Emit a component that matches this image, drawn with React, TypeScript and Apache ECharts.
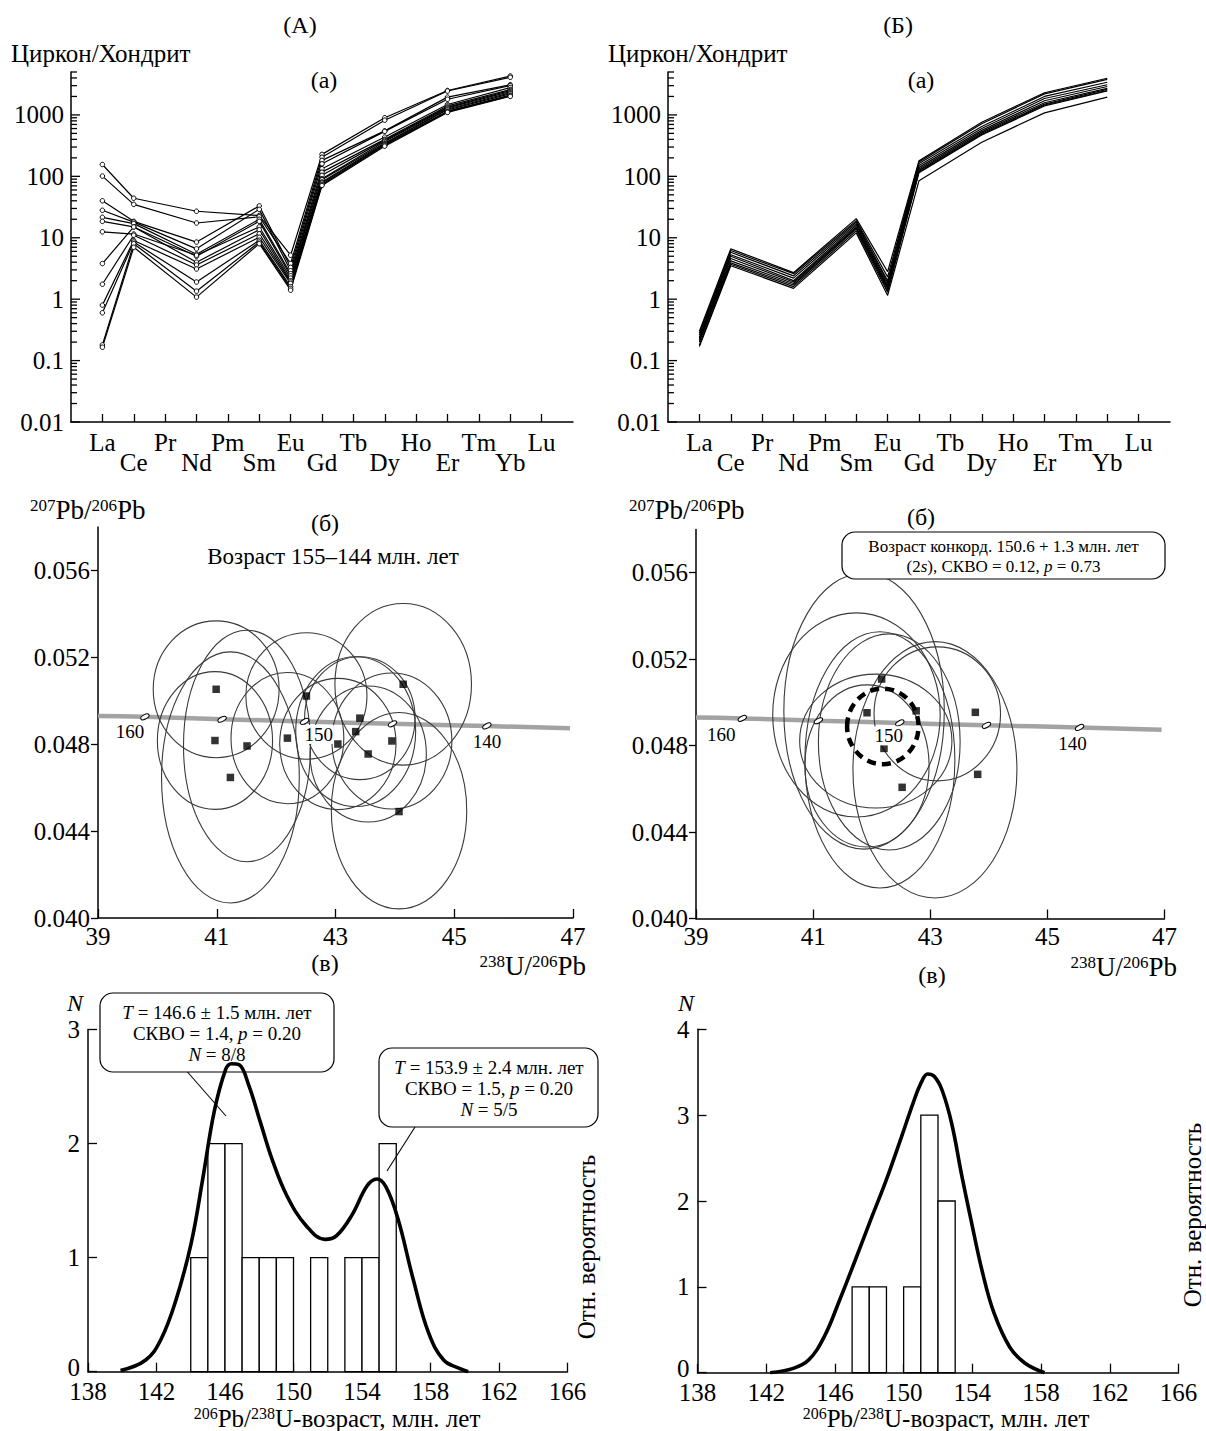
import React, { useEffect, useRef } from 'react';
import * as echarts from 'echarts';

const FONT = 'Liberation Serif';

// ---------------- REE spider diagrams (row 1) ----------------
const REE_ELEMENTS = ['La', 'Ce', 'Pr', 'Nd', 'Pm', 'Sm', 'Eu', 'Gd', 'Tb', 'Dy', 'Ho', 'Er', 'Tm', 'Yb', 'Lu'];
const REE_CATS = ['', ...REE_ELEMENTS, ''];
// category positions of measured elements: La Ce Nd Sm Eu Gd Dy Er Yb
const REE_MEASURED_POS = [1, 2, 4, 6, 7, 8, 10, 12, 14];
const REE_Y_LABELS = [0.01, 0.1, 1, 10, 100, 1000];
const REE_Y_MINOR = [
  0.02, 0.03, 0.04, 0.05, 0.06, 0.07, 0.08, 0.09,
  0.2, 0.3, 0.4, 0.5, 0.6, 0.7, 0.8, 0.9,
  2, 3, 4, 5, 6, 7, 8, 9,
  20, 30, 40, 50, 60, 70, 80, 90,
  200, 300, 400, 500, 600, 700, 800, 900,
  2000, 3000, 4000, 5000,
];

// (А) samples: La Ce Nd Sm Eu Gd Dy Er Yb
const REE_A_1 = [156, 44, 27, 23, 5.2, 228, 900, 2500, 4300];
const REE_A_2 = [101, 35, 17.4, 22, 3.8, 205, 820, 2450, 4100];
const REE_A_3 = [40, 18.5, 8.5, 33, 3.3, 182, 550, 1950, 3100];
const REE_A_4 = [28, 18, 6.6, 29, 2.9, 160, 540, 1800, 3000];
const REE_A_5 = [21.5, 17, 5.4, 20, 2.6, 133, 436, 1480, 2800];
const REE_A_6 = [18.5, 15, 5.0, 18.5, 2.4, 117, 400, 1400, 2600];
const REE_A_7 = [12.5, 11.5, 5.2, 15, 2.2, 104, 385, 1340, 2500];
const REE_A_8 = [3.8, 15, 4.0, 13.5, 2.0, 91, 370, 1300, 2400];
const REE_A_9 = [1.75, 11, 3.6, 11.6, 1.9, 88, 350, 1250, 2300];
const REE_A_10 = [0.8, 9, 3.1, 10.2, 1.8, 81, 339, 1210, 2215];
const REE_A_11 = [0.6, 8.5, 1.9, 9.1, 1.6, 78, 330, 1150, 2100];
const REE_A_12 = [0.18, 8, 1.35, 8.5, 1.5, 74, 320, 1120, 2050];
const REE_A_13 = [0.165, 7, 1.08, 8.0, 1.4, 71, 310, 1100, 2000];
const REE_A = [REE_A_1, REE_A_2, REE_A_3, REE_A_4, REE_A_5, REE_A_6, REE_A_7, REE_A_8, REE_A_9, REE_A_10, REE_A_11, REE_A_12, REE_A_13];

// (Б) samples
const REE_B_1 = [0.30, 6.6, 2.7, 20.5, 2.8, 180, 760, 2300, 3950];
const REE_B_2 = [0.28, 6.2, 2.6, 19, 2.3, 172, 720, 2200, 3800];
const REE_B_3 = [0.26, 5.8, 2.4, 18, 2.0, 162, 650, 2000, 3400];
const REE_B_4 = [0.24, 5.3, 2.2, 17, 1.85, 150, 600, 1850, 3100];
const REE_B_5 = [0.23, 5.0, 2.0, 16, 1.7, 140, 560, 1700, 2900];
const REE_B_6 = [0.22, 4.6, 1.9, 15, 1.6, 132, 530, 1580, 2700];
const REE_B_7 = [0.21, 4.2, 1.8, 14.5, 1.5, 125, 505, 1500, 2600];
const REE_B_8 = [0.20, 3.9, 1.7, 14, 1.4, 120, 485, 1450, 2500];
const REE_B_9 = [0.18, 3.7, 1.6, 13, 1.3, 115, 470, 1400, 2450];
const REE_B_10 = [0.17, 3.5, 1.5, 12, 1.15, 85, 360, 1080, 1950];
const REE_B = [REE_B_1, REE_B_2, REE_B_3, REE_B_4, REE_B_5, REE_B_6, REE_B_7, REE_B_8, REE_B_9, REE_B_10];

// ---------------- Concordia diagrams (row 2) ----------------
const CONC_X_TICKS = [39, 41, 43, 45, 47];
const CONC_Y_TICKS = [0.040, 0.044, 0.048, 0.052, 0.056];
const CONCORDIA_X = [39.0, 39.79, 41.09, 42.48, 43.96, 45.55, 46.95];
const CONCORDIA_Y = [0.04930, 0.04926, 0.04915, 0.04905, 0.04894, 0.04884, 0.04873];
const CONC_AGE_X = [39.79, 41.09, 42.48, 43.96, 45.55];
const CONC_AGE_Y = [0.04926, 0.04915, 0.04905, 0.04894, 0.04884];
const CONC_AGE_LABELS = ['160', '', '150', '', '140'];

// (А) error ellipses: centre x, centre y, half-width, half-height
const ELL_A_X = [40.99, 40.97, 41.51, 41.23, 42.19, 42.51, 43.04, 43.41, 43.34, 43.55, 43.95, 44.14, 44.07];
const ELL_A_Y = [0.05053, 0.04817, 0.04792, 0.04647, 0.04828, 0.05022, 0.04801, 0.04920, 0.04858, 0.04755, 0.04815, 0.05076, 0.04494];
const ELL_A_RX = [1.06, 0.97, 1.07, 1.16, 0.95, 1.02, 0.98, 0.93, 1.01, 0.98, 1.01, 1.15, 1.14];
const ELL_A_RY = [0.00315, 0.00317, 0.00533, 0.00578, 0.00302, 0.00291, 0.00302, 0.00283, 0.00345, 0.00313, 0.00313, 0.00372, 0.00452];
const PTS_A_X = [40.99, 40.97, 41.51, 41.23, 42.19, 42.51, 43.04, 43.41, 43.34, 43.55, 43.95, 44.14, 44.07];
const PTS_A_Y = [0.05053, 0.04817, 0.04792, 0.04647, 0.04828, 0.05022, 0.04801, 0.04920, 0.04858, 0.04755, 0.04815, 0.05076, 0.04490];

// (Б) error ellipses
const ELL_B_X = [41.87, 41.74, 42.30, 43.12, 42.07, 41.92, 42.14, 43.08];
const ELL_B_Y = [0.04960, 0.04942, 0.04817, 0.04947, 0.04821, 0.04706, 0.04734, 0.04688];
const ELL_B_RX = [1.37, 1.43, 1.21, 1.08, 1.30, 1.06, 1.28, 1.40];
const ELL_B_RY = [0.00639, 0.00472, 0.00500, 0.00310, 0.00310, 0.00375, 0.00593, 0.00593];
const PTS_B_X = [42.17, 41.92, 42.76, 43.77, 43.81, 42.52, 42.21, 42.34];
const PTS_B_Y = [0.05108, 0.04952, 0.04961, 0.04954, 0.04667, 0.04607, 0.04787, 0.04857];
// concordia-age ellipse (dashed)
const CONC_AGE_ELL_X = [42.19];
const CONC_AGE_ELL_Y = [0.04889];
const CONC_AGE_ELL_RX = [0.61];
const CONC_AGE_ELL_RY = [0.00175];

// ---------------- Age histograms (row 3) ----------------
const HIST_X_TICKS = [138, 142, 146, 150, 154, 158, 162, 166];
const HIST_A_LO = [144, 145, 146, 147, 148, 149, 151, 153, 154, 155];
const HIST_A_N = [1, 2, 2, 1, 1, 1, 1, 1, 1, 2];
const HIST_B_LO = [147, 148, 150, 151, 152];
const HIST_B_N = [1, 1, 1, 3, 2];
const HIST_BIN = 1;

const PDF_A_X = [139.9, 141.35, 142.25, 143.14, 144.03, 144.7, 145.37, 146.04, 146.38, 146.83, 147.39, 148.06, 148.73, 149.62, 150.74, 151.85, 152.5, 153.4, 154.3, 154.87, 155.4, 156.1, 156.99, 157.89, 158.78, 159.68, 160.2];
const PDF_A_Y = [0.01, 0.10, 0.28, 0.63, 1.13, 1.69, 2.28, 2.65, 2.70, 2.69, 2.51, 2.19, 1.87, 1.54, 1.28, 1.16, 1.19, 1.37, 1.63, 1.69, 1.62, 1.34, 0.81, 0.34, 0.10, 0.03, 0.0];
const PDF_B_X = [142.23, 143.58, 144.48, 145.38, 146.28, 147.18, 148.08, 148.98, 149.88, 150.55, 151.0, 151.4, 151.79, 152.24, 152.8, 153.36, 153.92, 154.6, 155.27, 156.17, 157.07, 158.2];
const PDF_B_Y = [0.0, 0.05, 0.15, 0.42, 0.85, 1.31, 1.78, 2.24, 2.75, 3.14, 3.37, 3.48, 3.45, 3.29, 2.90, 2.32, 1.78, 1.16, 0.69, 0.30, 0.11, 0.0];

// ---------------- helpers ----------------
const AX_LINE = { lineStyle: { color: '#000', width: 1.5 } };
const TICK_STYLE = { color: '#000', width: 1.3 };
const LABEL = { fontFamily: FONT, fontSize: 25, color: '#000' };

function reeLineSeries(samples: number[][], idx: number, withSymbols: boolean) {
  return samples.map((vals) => ({
    type: 'line',
    xAxisIndex: idx,
    yAxisIndex: idx,
    data: vals.map((v, i) => [REE_MEASURED_POS[i], v]),
    symbol: withSymbols ? 'circle' : 'none',
    symbolSize: 4.5,
    itemStyle: { color: '#fff', borderColor: '#000', borderWidth: 1 },
    lineStyle: { color: '#000', width: 1.2 },
    silent: true,
    z: 3,
  }));
}

function reeTickSeries(idx: number) {
  const data = [
    ...REE_Y_LABELS.map((v) => [0, v, 1]),
    ...REE_Y_MINOR.map((v) => [0, v, 0]),
  ];
  return {
    type: 'custom',
    xAxisIndex: idx,
    yAxisIndex: idx,
    data,
    encode: { x: 0, y: 1 },
    clip: false,
    silent: true,
    z: 5,
    renderItem: (params: any, api: any) => {
      const p = api.coord([0, api.value(1)]);
      const len = api.value(2) ? 9 : 6;
      return {
        type: 'line',
        shape: { x1: p[0], y1: p[1], x2: p[0] + len, y2: p[1] },
        style: { stroke: '#000', lineWidth: 1.3 },
      };
    },
  };
}

function ellipseSeries(idx: number, xs: number[], ys: number[], rxs: number[], rys: number[], style: any, z: number) {
  return {
    type: 'custom',
    xAxisIndex: idx,
    yAxisIndex: idx,
    data: xs.map((x, i) => [x, ys[i], rxs[i], rys[i]]),
    encode: { x: 0, y: 1 },
    silent: true,
    z,
    renderItem: (params: any, api: any) => {
      const c = api.coord([api.value(0), api.value(1)]);
      const s = api.size([api.value(2), api.value(3)]);
      return {
        type: 'ellipse',
        shape: { cx: c[0], cy: c[1], rx: s[0], ry: s[1] },
        style,
      };
    },
  };
}

function ageMarkerSeries(idx: number, offsets: number[][]) {
  return {
    type: 'custom',
    xAxisIndex: idx,
    yAxisIndex: idx,
    data: CONC_AGE_X.map((x, i) => [x, CONC_AGE_Y[i]]),
    encode: { x: 0, y: 1 },
    silent: true,
    clip: false,
    z: 8,
    renderItem: (params: any, api: any) => {
      const p = api.coord([api.value(0), api.value(1)]);
      const i = params.dataIndex;
      const children: any[] = [
        {
          type: 'ellipse',
          x: p[0],
          y: p[1],
          rotation: 0.5,
          shape: { cx: 0, cy: 0, rx: 4.6, ry: 2.2 },
          style: { fill: '#fff', stroke: '#000', lineWidth: 1 },
        },
      ];
      const label = CONC_AGE_LABELS[i];
      if (label) {
        children.push({
          type: 'text',
          x: p[0] + offsets[i][0],
          y: p[1] + offsets[i][1],
          style: {
            text: label,
            fontFamily: FONT,
            fontSize: 19,
            fill: '#000',
            align: 'center',
            verticalAlign: 'middle',
            backgroundColor: '#fff',
            padding: [0, 1, 0, 1],
          },
        });
      }
      return { type: 'group', children };
    },
  };
}

function concordiaSeries(idx: number) {
  return {
    type: 'line',
    xAxisIndex: idx,
    yAxisIndex: idx,
    data: CONCORDIA_X.map((x, i) => [x, CONCORDIA_Y[i]]),
    symbol: 'none',
    smooth: true,
    lineStyle: { color: '#a3a3a3', width: 4.5 },
    silent: true,
    z: 1,
  };
}

function pointSeries(idx: number, xs: number[], ys: number[]) {
  return {
    type: 'scatter',
    xAxisIndex: idx,
    yAxisIndex: idx,
    data: xs.map((x, i) => [x, ys[i]]),
    symbol: 'rect',
    symbolSize: 7.5,
    itemStyle: { color: '#000' },
    silent: true,
    z: 4,
  };
}

function histSeries(idx: number, lo: number[], n: number[]) {
  return {
    type: 'custom',
    xAxisIndex: idx,
    yAxisIndex: idx,
    data: lo.map((x, i) => [x, x + HIST_BIN, n[i]]),
    encode: { x: [0, 1], y: 2 },
    silent: true,
    z: 2,
    renderItem: (params: any, api: any) => {
      const a = api.coord([api.value(0), api.value(2)]);
      const b = api.coord([api.value(1), 0]);
      return {
        type: 'rect',
        shape: { x: a[0], y: a[1], width: b[0] - a[0], height: b[1] - a[1] },
        style: { fill: '#fff', stroke: '#000', lineWidth: 1.3 },
      };
    },
  };
}

function pdfSeries(idx: number, xs: number[], ys: number[]) {
  return {
    type: 'line',
    xAxisIndex: idx,
    yAxisIndex: idx,
    data: xs.map((x, i) => [x, ys[i]]),
    symbol: 'none',
    smooth: 0.4,
    lineStyle: { color: '#000', width: 3.6 },
    silent: true,
    z: 4,
  };
}

const reeFormatter = (v: number) => {
  const m = REE_Y_LABELS.find((l) => Math.abs(Math.log10(l) - Math.log10(v)) < 1e-6);
  return m === undefined ? '' : String(m);
};

function reeX(grid: number) {
  return {
    gridIndex: grid,
    type: 'category',
    data: REE_CATS,
    boundaryGap: false,
    axisLine: AX_LINE,
    axisTick: { inside: true, length: 8, interval: (i: number) => i > 0 && i < 16, lineStyle: TICK_STYLE },
    axisLabel: {
      ...LABEL,
      interval: 0,
      margin: 10,
      lineHeight: 20,
      formatter: (v: string, i: number) => (v === '' ? '' : i % 2 === 1 ? v : '\n' + v),
    },
    splitLine: { show: false },
  };
}

function reeY(grid: number) {
  return {
    gridIndex: grid,
    type: 'log',
    logBase: 10,
    min: 0.01,
    max: 5000,
    axisLine: { show: true, ...AX_LINE },
    axisTick: { show: false },
    minorTick: { show: false },
    splitLine: { show: false },
    axisLabel: { ...LABEL, margin: 7, formatter: reeFormatter },
  };
}

function concX(grid: number) {
  return {
    gridIndex: grid,
    type: 'value',
    min: 39,
    max: 47,
    axisLine: AX_LINE,
    axisTick: { inside: true, length: 9, customValues: CONC_X_TICKS, lineStyle: TICK_STYLE },
    axisLabel: { ...LABEL, margin: 8, lineHeight: 20, customValues: CONC_X_TICKS },
    splitLine: { show: false },
  };
}

function concY(grid: number) {
  return {
    gridIndex: grid,
    type: 'value',
    min: 0.04,
    max: 0.058,
    axisLine: { show: true, ...AX_LINE },
    axisTick: { inside: false, length: 7, customValues: CONC_Y_TICKS, lineStyle: TICK_STYLE },
    axisLabel: { ...LABEL, margin: 8, lineHeight: 20, customValues: CONC_Y_TICKS, formatter: (v: number) => v.toFixed(3) },
    splitLine: { show: false },
  };
}

function histX(grid: number) {
  return {
    gridIndex: grid,
    type: 'value',
    min: 138,
    max: 166,
    axisLine: AX_LINE,
    axisTick: { inside: true, length: 9, customValues: HIST_X_TICKS, lineStyle: TICK_STYLE },
    axisLabel: { ...LABEL, margin: 10, lineHeight: 19, customValues: HIST_X_TICKS },
    splitLine: { show: false },
  };
}

function histY(grid: number, max: number) {
  return {
    gridIndex: grid,
    type: 'value',
    min: 0,
    max,
    interval: 1,
    axisLine: { show: true, ...AX_LINE },
    axisTick: { inside: true, length: 9, lineStyle: TICK_STYLE },
    axisLabel: {
      ...LABEL,
      margin: 8,
      lineHeight: 17,
      formatter: (v: number) => (v === 0 ? '{z|0}' : String(v)),
      rich: { z: { fontFamily: FONT, fontSize: 25, color: '#000', lineHeight: 17, padding: [0, 0, 8, 0] } },
    },
    splitLine: { show: false },
  };
}

// ---------- graphic helpers ----------
function txt(x: number, y: number, text: string, o: any = {}) {
  const align = o.align || 'center';
  return {
    type: 'text',
    x,
    y,
    rotation: o.rot || 0,
    z: o.z || 20,
    style: {
      text,
      fontFamily: FONT,
      fontSize: o.size || 24,
      fontStyle: o.italic ? 'italic' : 'normal',
      fill: '#000',
      align,
      textAlign: align,
      verticalAlign: 'middle',
      textVerticalAlign: 'middle',
      lineHeight: o.lh,
      rich: o.rich,
    },
  };
}

const SUP_RICH = {
  s: { fontSize: 17, fontFamily: FONT, fill: '#000', color: '#000', verticalAlign: 'top' },
  m: { fontSize: 27, fontFamily: FONT, fill: '#000', color: '#000', verticalAlign: 'bottom' },
};
const SUP_RICH_SM = {
  s: { fontSize: 16, fontFamily: FONT, fill: '#000', color: '#000', verticalAlign: 'top' },
  m: { fontSize: 25, fontFamily: FONT, fill: '#000', color: '#000', verticalAlign: 'bottom' },
};
const BOX_RICH = (size: number, lh: number) => ({
  i: { fontSize: size, fontFamily: FONT, fontStyle: 'italic', fill: '#000', color: '#000', lineHeight: lh },
  r: { fontSize: size, fontFamily: FONT, fill: '#000', color: '#000', lineHeight: lh },
});

function box(x: number, y: number, w: number, h: number, z: number) {
  return {
    type: 'rect',
    z,
    shape: { x, y, width: w, height: h, r: 13 },
    style: { fill: '#fff', stroke: '#000', lineWidth: 1.2 },
  };
}
function seg(x1: number, y1: number, x2: number, y2: number) {
  return {
    type: 'line',
    z: 20,
    shape: { x1, y1, x2, y2 },
    style: { stroke: '#000', lineWidth: 1.1 },
  };
}

const LEFT_AGE_OFFSETS = [[-15, 15], [0, 0], [14, 13], [0, 0], [0, 16]];
const RIGHT_AGE_OFFSETS = [[-21, 16], [0, 0], [-11, 13], [0, 0], [-7, 16]];

function buildOption() {
  const grids = [
    { left: 71, top: 72, width: 502, height: 350 },
    { left: 668, top: 72, width: 502, height: 350 },
    { left: 98, top: 527, width: 475, height: 391 },
    { left: 696, top: 529.5, width: 468.5, height: 389 },
    { left: 88, top: 1029.5, width: 479.5, height: 342.2 },
    { left: 697.5, top: 1029.3, width: 481, height: 343.4 },
  ];

  const graphics: any[] = [
    // column headers & REE titles
    txt(300, 25, '(А)'),
    txt(898, 25, '(Б)'),
    txt(11, 53, 'Циркон/Хондрит', { align: 'left', size: 25 }),
    txt(608, 53, 'Циркон/Хондрит', { align: 'left', size: 25 }),
    txt(324, 80, '(а)'),
    txt(921, 80, '(а)'),
    // concordia titles
    txt(30, 510, '{s|207}{m|Pb/}{s|206}{m|Pb}', { align: 'left', rich: SUP_RICH }),
    txt(629, 510, '{s|207}{m|Pb/}{s|206}{m|Pb}', { align: 'left', rich: SUP_RICH }),
    txt(325, 523, '(б)'),
    txt(921, 517, '(б)'),
    txt(333, 556, 'Возраст 155–144 млн. лет', { size: 23 }),
    txt(325, 963, '(в)'),
    txt(932, 975, '(в)'),
    txt(586, 966, '{s|238}{m|U/}{s|206}{m|Pb}', { align: 'right', rich: SUP_RICH }),
    txt(1177, 967, '{s|238}{m|U/}{s|206}{m|Pb}', { align: 'right', rich: SUP_RICH }),
    // concordia-age box (right)
    box(842, 532, 323, 47, 30),
    txt(1003.5, 556.5, 'Возраст конкорд. 150.6 + 1.3 млн. лет\n(2{i|s}), СКВО = 0.12, {i|p} = 0.73', {
      size: 17, lh: 20.5, rich: BOX_RICH(17, 20.5), z: 31,
    }),
    // histogram titles
    txt(75, 1003, 'N', { italic: true, size: 24 }),
    txt(686, 1003, 'N', { italic: true, size: 24 }),
    txt(586, 1247, 'Отн. вероятность', { size: 25, rot: Math.PI / 2 }),
    txt(1192, 1215, 'Отн. вероятность', { size: 25, rot: Math.PI / 2 }),
    txt(337, 1418, '{s|206}{m|Pb/}{s|238}{m|U-возраст, млн. лет}', { rich: SUP_RICH_SM }),
    txt(946, 1418, '{s|206}{m|Pb/}{s|238}{m|U-возраст, млн. лет}', { rich: SUP_RICH_SM }),
    // histogram annotation boxes
    box(100, 993, 234, 79, 1),
    txt(217, 1033, '{i|T} = 146.6 ± 1.5 млн. лет\nСКВО = 1.4, {i|p} = 0.20\n{i|N} = 8/8', {
      size: 19, lh: 21, rich: BOX_RICH(19, 21), z: 1,
    }),
    seg(187.5, 1072, 226, 1116),
    box(379, 1048, 219, 79, 1),
    txt(489, 1088, '{i|T} = 153.9 ± 2.4 млн. лет\nСКВО = 1.5, {i|p} = 0.20\n{i|N} = 5/5', {
      size: 19, lh: 21, rich: BOX_RICH(19, 21), z: 1,
    }),
    seg(415, 1127, 387, 1171),
  ];

  const ellStyle = { fill: 'none', stroke: '#3a3a3a', lineWidth: 1.1 };
  const dashStyle = { fill: 'none', stroke: '#000', lineWidth: 4.5, lineDash: [9, 6] };

  const series: any[] = [
    ...reeLineSeries(REE_A, 0, true),
    reeTickSeries(0),
    ...reeLineSeries(REE_B, 1, false),
    reeTickSeries(1),
    concordiaSeries(2),
    ellipseSeries(2, ELL_A_X, ELL_A_Y, ELL_A_RX, ELL_A_RY, ellStyle, 3),
    pointSeries(2, PTS_A_X, PTS_A_Y),
    ageMarkerSeries(2, LEFT_AGE_OFFSETS),
    concordiaSeries(3),
    ellipseSeries(3, ELL_B_X, ELL_B_Y, ELL_B_RX, ELL_B_RY, ellStyle, 3),
    pointSeries(3, PTS_B_X, PTS_B_Y),
    ellipseSeries(3, CONC_AGE_ELL_X, CONC_AGE_ELL_Y, CONC_AGE_ELL_RX, CONC_AGE_ELL_RY, dashStyle, 6),
    ageMarkerSeries(3, RIGHT_AGE_OFFSETS),
    histSeries(4, HIST_A_LO, HIST_A_N),
    pdfSeries(4, PDF_A_X, PDF_A_Y),
    histSeries(5, HIST_B_LO, HIST_B_N),
    pdfSeries(5, PDF_B_X, PDF_B_Y),
  ];

  return {
    animation: false,
    backgroundColor: '#fff',
    textStyle: { fontFamily: FONT },
    grid: grids,
    xAxis: [reeX(0), reeX(1), concX(2), concX(3), histX(4), histX(5)],
    yAxis: [reeY(0), reeY(1), concY(2), concY(3), histY(4, 3), histY(5, 4)],
    series,
    graphic: { elements: graphics },
  };
}

export default function App() {
  const ref = useRef<HTMLDivElement>(null);
  useEffect(() => {
    if (!ref.current) return;
    const chart = echarts.init(ref.current, undefined, { renderer: 'svg' });
    chart.setOption(buildOption() as any);
    return () => chart.dispose();
  }, []);
  return (
    <div
      ref={ref}
      style={{ position: 'absolute', left: 0, top: 0, width: 1206, height: 1431, background: '#fff' }}
    />
  );
}
